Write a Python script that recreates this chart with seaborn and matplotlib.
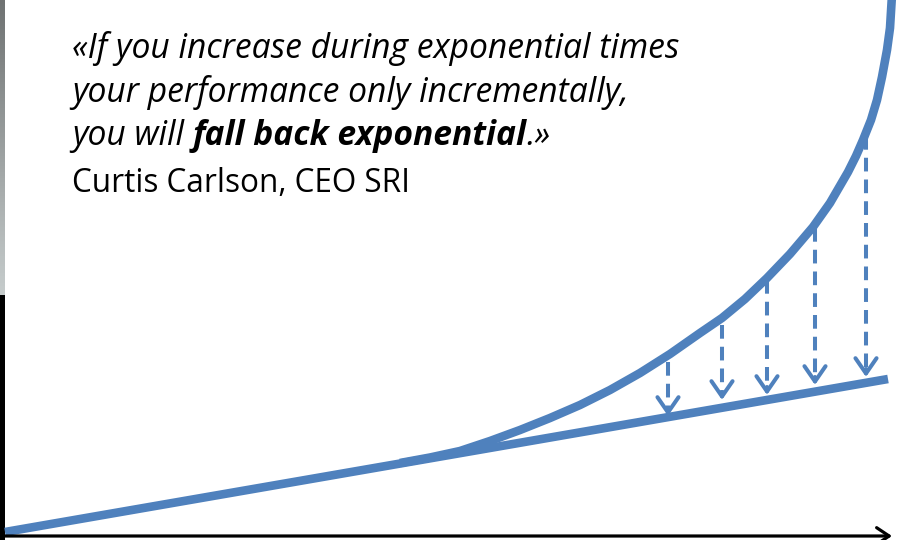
import numpy as np
import pandas as pd
import seaborn as sns
import matplotlib.pyplot as plt

# %%
# values (x = time, y = performance, both in picture units)
line_x = [5, 888]
line_y = [8, 161]

curve_x = [400, 430, 460, 490, 520, 550, 580, 610, 640, 670, 700, 722, 745,
           767, 790, 813, 830, 848, 856, 863, 871, 877, 882, 887, 890, 892]
curve_y = [77, 82.5, 89, 99, 110, 122, 135, 150, 167, 186, 207, 222, 241,
           262, 286, 313, 337, 368, 384, 400, 420, 440, 463, 490, 512, 545]

gap_x = [668, 722, 767, 815, 866]
gap_top = [178, 215, 260, 312, 404]
gap_tip = [124, 140, 145, 155, 163]

quote_lines = ["«If you increase during exponential times",
               "your performance only incrementally,"]
quote_last = ["you will ", "fall back exponential", ".»"]
author = "Curtis Carlson, CEO SRI"

blue = "#4F81BD"

# %%
sns.set_theme(style="white")
plt.rcParams['font.family'] = ['Open Sans', 'DejaVu Sans']

fig = plt.figure(figsize=(9.02, 5.4), dpi=100)
ax = fig.add_axes([0, 0, 1, 1])
ax.set_xlim(0, 902)
ax.set_ylim(0, 540)
ax.axis('off')

# slide edge on the left
grad = np.linspace(0.45, 0.80, 60)
ax.imshow(np.column_stack([grad, grad]).reshape(-1, 2, 1).repeat(3, axis=2) * [0.97, 1.0, 1.0],
          extent=[0, 4.5, 245, 540], aspect='auto', zorder=0)
ax.axvspan(0, 4.5, ymin=0, ymax=245 / 540, color='black', lw=0, zorder=0)

df_line = pd.DataFrame({'t': line_x, 'perf': line_y})
df_curve = pd.DataFrame({'t': curve_x, 'perf': curve_y})
sns.lineplot(data=df_line, x='t', y='perf', ax=ax, color=blue, lw=6.2,
             solid_capstyle='butt', sort=False)
sns.lineplot(data=df_curve, x='t', y='perf', ax=ax, color=blue, lw=6.2,
             solid_capstyle='butt', solid_joinstyle='round', sort=False)

# dashed drops from the exponential curve to the linear line
for x, top, tip in zip(gap_x, gap_top, gap_tip):
    ax.plot([x, x], [top, tip + 6], color=blue, lw=2.9, dashes=(3.4, 2))
    ax.annotate('', xy=(x, tip), xytext=(x, tip + 8),
                arrowprops=dict(arrowstyle='->,head_length=0.55,head_width=0.38',
                                color=blue, lw=2.9, mutation_scale=20,
                                shrinkA=0, shrinkB=0))

# time axis
ax.annotate('', xy=(892, 4), xytext=(0, 4),
            arrowprops=dict(arrowstyle='->,head_length=0.45,head_width=0.3',
                            color='black', lw=2.3, mutation_scale=20,
                            shrinkA=0, shrinkB=0))

# quote
fs = 24.2
ax.text(72, 482, quote_lines[0], fontsize=fs, style='italic', va='baseline', color='black')
ax.text(72, 438, quote_lines[1], fontsize=fs, style='italic', va='baseline', color='black')
t = ax.text(72, 395, quote_last[0], fontsize=fs, style='italic', va='baseline', color='black')
t = ax.annotate(quote_last[1], xy=(1, 0), xycoords=t, va='bottom', fontsize=fs,
                style='italic', weight='bold', color='black')
ax.annotate(quote_last[2], xy=(1, 0), xycoords=t, va='bottom', fontsize=fs,
            style='italic', color='black')
ax.text(72, 348, author, fontsize=22.7, va='baseline', color='black')

fig.savefig('out.png', dpi=100)
